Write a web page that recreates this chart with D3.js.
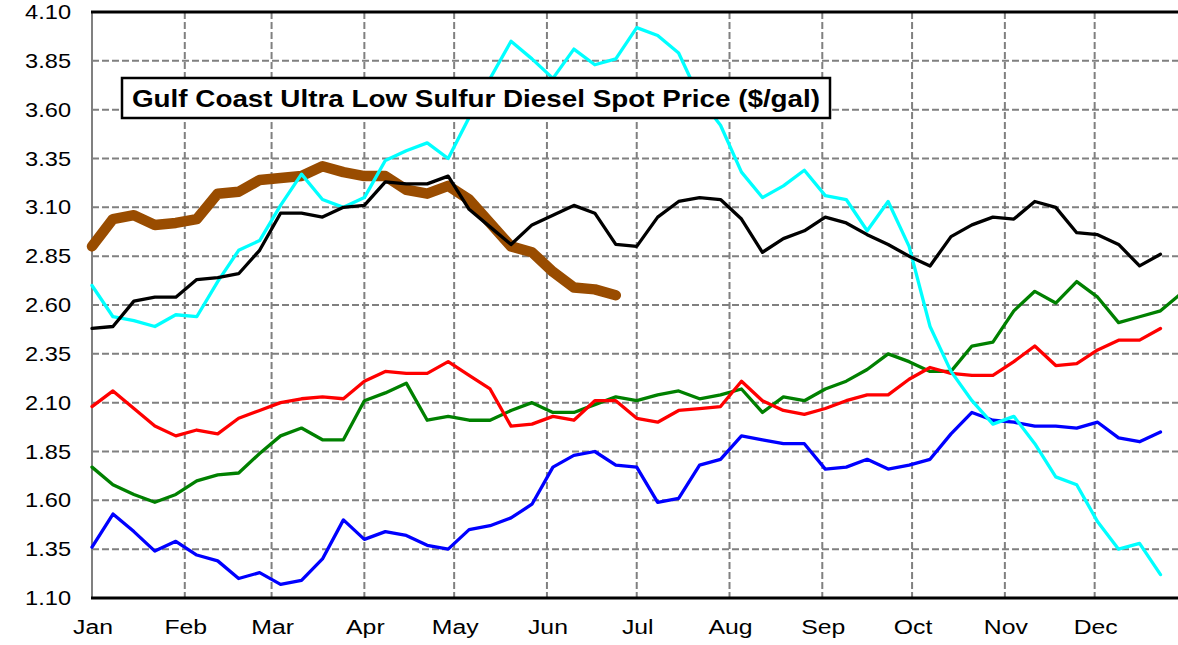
<!DOCTYPE html>
<html>
<head>
<meta charset="utf-8">
<script src="https://cdn.jsdelivr.net/npm/d3@7"></script>
<style>
  body { margin: 0; background: #fff; }
  svg { display: block; font-family: Arial, "Liberation Sans", sans-serif; }
</style>
</head>
<body>
<div id="chart"></div>
<script>
// weekly spot prices, one value per week starting Jan 1
const y2007 = [1.77,1.68,1.63,1.59,1.63,1.70,1.73,1.74,1.84,1.93,1.97,1.91,1.91,2.11,2.15,2.20,2.01,2.03,2.01,2.01,2.06,2.10,2.05,2.05,2.09,2.13,2.11,2.14,2.16,2.12,2.14,2.17,2.05,2.13,2.11,2.17,2.21,2.27,2.35,2.31,2.26,2.26,2.39,2.41,2.57,2.67,2.61,2.72,2.64,2.51,2.54,2.57,2.66];
const y2008 = [2.70,2.54,2.52,2.49,2.55,2.54,2.72,2.88,2.93,3.11,3.27,3.14,3.10,3.15,3.34,3.39,3.43,3.35,3.56,3.76,3.95,3.86,3.76,3.91,3.83,3.86,4.02,3.98,3.89,3.66,3.52,3.28,3.15,3.21,3.29,3.16,3.14,2.98,3.13,2.90,2.49,2.26,2.11,1.99,2.03,1.89,1.72,1.68,1.49,1.35,1.38,1.22];
const y2009 = [1.36,1.53,1.44,1.34,1.39,1.32,1.29,1.20,1.23,1.17,1.19,1.30,1.50,1.40,1.44,1.42,1.37,1.35,1.45,1.47,1.51,1.58,1.77,1.83,1.85,1.78,1.77,1.59,1.61,1.78,1.81,1.93,1.91,1.89,1.89,1.76,1.77,1.81,1.76,1.78,1.81,1.94,2.05,2.01,2.00,1.98,1.98,1.97,2.00,1.92,1.90,1.95];
const y2010 = [2.08,2.16,2.07,1.98,1.93,1.96,1.94,2.02,2.06,2.10,2.12,2.13,2.12,2.21,2.26,2.25,2.25,2.31,2.24,2.17,1.98,1.99,2.03,2.01,2.11,2.11,2.02,2.00,2.06,2.07,2.08,2.21,2.11,2.06,2.04,2.07,2.11,2.14,2.14,2.22,2.28,2.25,2.24,2.24,2.31,2.39,2.29,2.30,2.37,2.42,2.42,2.48];
const y2011 = [2.48,2.49,2.62,2.64,2.64,2.73,2.74,2.76,2.88,3.07,3.07,3.05,3.10,3.11,3.23,3.22,3.22,3.26,3.09,3.00,2.91,3.01,3.06,3.11,3.07,2.91,2.90,3.05,3.13,3.15,3.14,3.04,2.87,2.94,2.98,3.05,3.02,2.96,2.91,2.85,2.80,2.95,3.01,3.05,3.04,3.13,3.10,2.97,2.96,2.91,2.80,2.86];
const y2012 = [2.90,3.04,3.06,3.01,3.02,3.04,3.17,3.18,3.24,3.25,3.26,3.31,3.28,3.26,3.26,3.19,3.17,3.21,3.14,3.02,2.90,2.87,2.77,2.69,2.68,2.65];

const series = [
  {values: y2012, color: "#994c00", width: 10.5},
  {values: y2009, color: "#0000ff", width: 3.3},
  {values: y2007, color: "#008000", width: 3.3},
  {values: y2010, color: "#ff0000", width: 3.3},
  {values: y2008, color: "#00ffff", width: 3.3},
  {values: y2011, color: "#000000", width: 3.3}
];

const months = ["Jan","Feb","Mar","Apr","May","Jun","Jul","Aug","Sep","Oct","Nov","Dec"];
const monthStart = [0,31,60,91,121,152,182,213,244,274,305,335];
const yTicks = [1.10,1.35,1.60,1.85,2.10,2.35,2.60,2.85,3.10,3.35,3.60,3.85,4.10];
const title = "Gulf Coast Ultra Low Sulfur Diesel Spot Price ($/gal)";

const width = 1178, height = 645;
const plotLeft = 92, plotTop = 12, plotBottom = 598;
const stretch = 1.18; // the original picture's text is a bit wider than plain Arial

const svg = d3.select("#chart").append("svg")
    .attr("width", width)
    .attr("height", height);

// day of year -> pixel; plot runs past the right edge of the picture
const x = d3.scaleLinear().domain([0, 366]).range([plotLeft, plotLeft + 366 * 2.993]);
const y = d3.scaleLinear().domain([1.10, 4.10]).range([plotBottom, plotTop]);

// grid
svg.append("g").selectAll("line")
    .data(yTicks.slice(1, -1))
    .join("line")
    .attr("x1", plotLeft).attr("x2", width)
    .attr("y1", d => y(d)).attr("y2", d => y(d))
    .attr("stroke", "#808080")
    .attr("stroke-width", 2)
    .attr("stroke-dasharray", "7,3");

svg.append("g").selectAll("line")
    .data(monthStart.slice(1))
    .join("line")
    .attr("x1", d => x(d)).attr("x2", d => x(d))
    .attr("y1", plotTop).attr("y2", plotBottom)
    .attr("stroke", "#808080")
    .attr("stroke-width", 2)
    .attr("stroke-dasharray", "7,3");

// frame
svg.append("line")
    .attr("x1", plotLeft).attr("x2", plotLeft)
    .attr("y1", plotTop).attr("y2", plotBottom)
    .attr("stroke", "#808080").attr("stroke-width", 2);
svg.append("line")
    .attr("x1", plotLeft - 1).attr("x2", width)
    .attr("y1", plotTop).attr("y2", plotTop)
    .attr("stroke", "#000").attr("stroke-width", 3);
svg.append("line")
    .attr("x1", plotLeft - 1).attr("x2", width)
    .attr("y1", plotBottom).attr("y2", plotBottom)
    .attr("stroke", "#000").attr("stroke-width", 3);

// axis labels
svg.append("g").selectAll("text")
    .data(yTicks)
    .join("text")
    .attr("transform", d => `translate(71,${y(d) + 7}) scale(${stretch},1)`)
    .attr("text-anchor", "end")
    .attr("font-size", 20)
    .text(d => d.toFixed(2));

svg.append("g").selectAll("text")
    .data(months)
    .join("text")
    .attr("transform", (d, i) => `translate(${x(monthStart[i]) + 1},634) scale(${stretch},1)`)
    .attr("text-anchor", "middle")
    .attr("font-size", 21)
    .text(d => d);

// lines
const line = d3.line()
    .x((d, i) => x(i * 7))
    .y(d => y(d));

const plot = svg.append("g");
plot.selectAll("path")
    .data(series)
    .join("path")
    .attr("d", d => line(d.values))
    .attr("fill", "none")
    .attr("stroke", d => d.color)
    .attr("stroke-width", d => d.width)
    .attr("stroke-linejoin", "round")
    .attr("stroke-linecap", "round");

// title box
const tb = svg.append("g");
tb.append("rect")
    .attr("x", 122).attr("y", 78)
    .attr("width", 708).attr("height", 40)
    .attr("fill", "#fff")
    .attr("stroke", "#000")
    .attr("stroke-width", 2.5);
tb.append("text")
    .attr("transform", `translate(476,107) scale(1.16,1)`)
    .attr("text-anchor", "middle")
    .attr("font-size", 24)
    .attr("font-weight", "bold")
    .text(title);
</script>
</body>
</html>
